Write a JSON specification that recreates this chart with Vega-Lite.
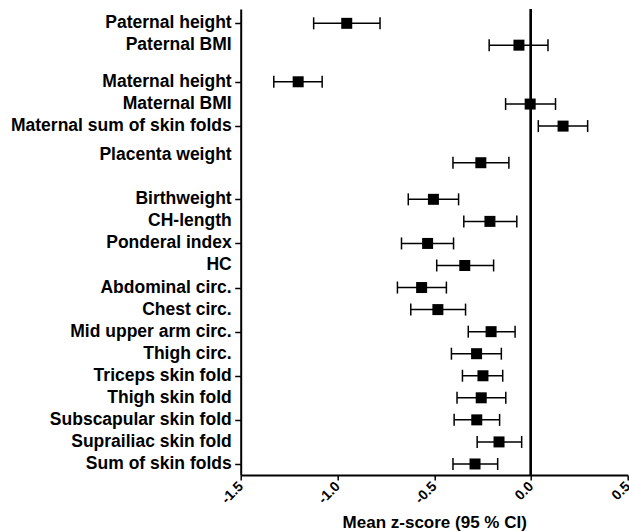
{
  "$schema": "https://vega.github.io/schema/vega-lite/v6.json",
  "autosize": {"type": "none"},
  "width": 387,
  "height": 466,
  "padding": {"left": 240.7, "top": 9, "right": 1.3, "bottom": 56},
  "background": "white",
  "config": {"view": {"stroke": null}, "font": "Liberation Sans"},
  "data": {"values": [
    {"label": "Paternal height", "row": 19.98, "pointRow": 19.98, "est": -0.952, "lo": -1.123, "hi": -0.78},
    {"label": "Paternal BMI", "row": 18.99, "pointRow": 18.99, "est": -0.062, "lo": -0.216, "hi": 0.088},
    {"label": "Maternal height", "row": 17.33, "pointRow": 17.33, "est": -1.203, "lo": -1.329, "hi": -1.079},
    {"label": "Maternal BMI", "row": 16.32, "pointRow": 16.32, "est": -0.004, "lo": -0.131, "hi": 0.127},
    {"label": "Maternal sum of skin folds", "row": 15.32, "pointRow": 15.32, "est": 0.166, "lo": 0.038, "hi": 0.293},
    {"label": "Placenta weight", "row": 14.01, "pointRow": 13.66, "est": -0.259, "lo": -0.403, "hi": -0.114},
    {"label": "Birthweight", "row": 12, "pointRow": 12, "est": -0.504, "lo": -0.634, "hi": -0.374},
    {"label": "CH-length", "row": 11, "pointRow": 11, "est": -0.212, "lo": -0.347, "hi": -0.073},
    {"label": "Ponderal index", "row": 10, "pointRow": 10, "est": -0.534, "lo": -0.669, "hi": -0.4},
    {"label": "HC", "row": 9, "pointRow": 9, "est": -0.342, "lo": -0.487, "hi": -0.193},
    {"label": "Abdominal circ.", "row": 8, "pointRow": 8, "est": -0.565, "lo": -0.69, "hi": -0.437},
    {"label": "Chest circ.", "row": 7, "pointRow": 7, "est": -0.481, "lo": -0.621, "hi": -0.338},
    {"label": "Mid upper arm circ.", "row": 6, "pointRow": 6, "est": -0.206, "lo": -0.324, "hi": -0.082},
    {"label": "Thigh circ.", "row": 5, "pointRow": 5, "est": -0.281, "lo": -0.411, "hi": -0.153},
    {"label": "Triceps skin fold", "row": 4, "pointRow": 4, "est": -0.248, "lo": -0.354, "hi": -0.146},
    {"label": "Thigh skin fold", "row": 3, "pointRow": 3, "est": -0.257, "lo": -0.382, "hi": -0.13},
    {"label": "Subscapular skin fold", "row": 2, "pointRow": 2, "est": -0.28, "lo": -0.397, "hi": -0.162},
    {"label": "Suprailiac skin fold", "row": 1, "pointRow": 1, "est": -0.165, "lo": -0.278, "hi": -0.048},
    {"label": "Sum of skin folds", "row": 0, "pointRow": 0, "est": -0.289, "lo": -0.403, "hi": -0.172}
  ]},
  "encoding": {
    "x": {
      "type": "quantitative",
      "scale": {"domain": [-1.5, 0.5], "nice": false, "zero": false},
      "axis": {
        "values": [-1.5, -1, -0.5, 0, 0.5],
        "labelExpr": "replace(format(datum.value, '.1f'), '\u2212', '-')",
        "labelAngle": -45,
        "labelAlign": "right",
        "labelBaseline": "middle",
        "labelFont": "Liberation Sans",
        "labelFontWeight": "bold",
        "labelFontSize": 14,
        "labelColor": "black",
        "labelPadding": 4,
        "labelOverlap": false,
        "labelFlush": false,
        "grid": false,
        "domainColor": "black",
        "domainWidth": 2,
        "tickColor": "black",
        "tickWidth": 1.5,
        "tickSize": 5,
        "title": "Mean z-score (95 % CI)",
        "titleFont": "Liberation Sans",
        "titleFontWeight": "bold",
        "titleFontSize": 17,
        "titleColor": "black",
        "titleBaseline": "alphabetic",
        "titleY": 52
      }
    }
  },
  "layer": [
    {
      "mark": {"type": "rule", "color": "black", "strokeWidth": 2},
      "encoding": {"x": {"datum": 0, "type": "quantitative"}}
    },
    {
      "mark": {"type": "rule", "color": "black", "strokeWidth": 1.5},
      "encoding": {
        "x": {"field": "lo", "type": "quantitative"},
        "x2": {"field": "hi"},
        "y": {
          "field": "pointRow",
          "type": "quantitative",
          "scale": {"domain": [-0.5, 20.63], "nice": false, "zero": false},
          "axis": {
            "values": [0, 1, 2, 3, 4, 5, 6, 7, 8, 9, 10, 11, 12, 14.01, 15.32, 16.32, 17.33, 18.99, 19.98],
            "labels": false,
            "grid": false,
            "title": null,
            "domainColor": "black",
            "domainWidth": 2,
            "tickColor": "black",
            "tickWidth": 1.5,
            "tickSize": 6
          }
        }
      }
    },
    {
      "mark": {"type": "point", "shape": "M0,-1L0,1", "filled": false, "stroke": "black", "strokeWidth": 1.5, "size": 144, "opacity": 1},
      "encoding": {
        "x": {"field": "lo", "type": "quantitative"},
        "y": {"field": "pointRow", "type": "quantitative"}
      }
    },
    {
      "mark": {"type": "point", "shape": "M0,-1L0,1", "filled": false, "stroke": "black", "strokeWidth": 1.5, "size": 144, "opacity": 1},
      "encoding": {
        "x": {"field": "hi", "type": "quantitative"},
        "y": {"field": "pointRow", "type": "quantitative"}
      }
    },
    {
      "mark": {"type": "point", "shape": "square", "filled": true, "color": "black", "size": 121, "opacity": 1},
      "encoding": {
        "x": {"field": "est", "type": "quantitative"},
        "y": {"field": "pointRow", "type": "quantitative"}
      }
    },
    {
      "mark": {"type": "text", "align": "right", "baseline": "middle", "dx": -9, "font": "Liberation Sans", "fontWeight": "bold", "fontSize": 17.5, "color": "black"},
      "encoding": {
        "x": {"datum": -1.5, "type": "quantitative"},
        "y": {"field": "row", "type": "quantitative"},
        "text": {"field": "label"}
      }
    }
  ]
}
